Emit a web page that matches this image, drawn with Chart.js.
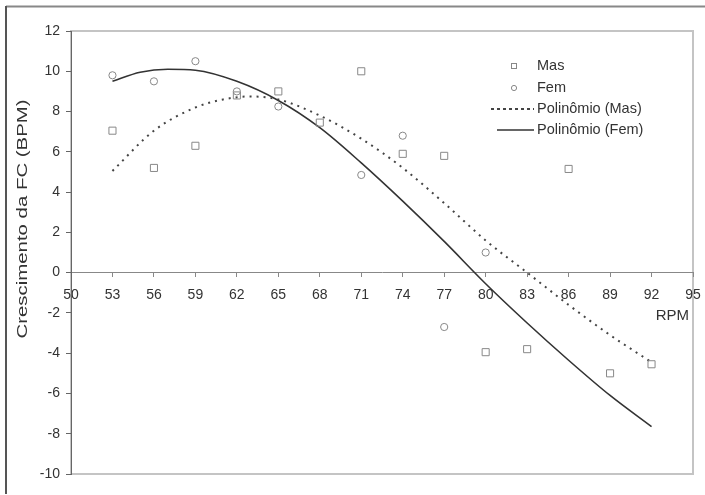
<!DOCTYPE html>
<html>
<head>
<meta charset="utf-8">
<script src="https://cdn.jsdelivr.net/npm/chart.js@4.4.0/dist/chart.umd.min.js"></script>
<style>
  html, body { margin: 0; padding: 0; background: #fff; }
  #wrap { width: 705px; height: 495px; }
</style>
</head>
<body>
<div id="wrap"><canvas id="fcChart" width="705" height="495"></canvas></div>
<script>
// RPM values of the measured points
const rpmMas = [53, 56, 59, 62, 65, 68, 71, 74, 77, 80, 83, 86, 89, 92];
const fcMas = [7.05, 5.2, 6.3, 8.8, 9.0, 7.45, 10.0, 5.9, 5.8, -3.95, -3.8, 5.15, -5.0, -4.55];

const rpmFem = [53, 56, 59, 62, 65, 71, 74, 77, 80];
const fcFem = [9.8, 9.5, 10.5, 9.0, 8.25, 4.85, 6.8, -2.7, 1.0];

// trend lines
const rpmTrendMas = [53, 56, 59, 61, 63, 65, 68, 71, 74, 77, 80, 83, 86, 89, 92];
const fcTrendMas = [5.05, 7.05, 8.2, 8.6, 8.75, 8.6, 7.8, 6.65, 5.2, 3.45, 1.6, 0.0, -1.6, -3.1, -4.45];

const rpmTrendFem = [53, 55, 57, 59, 62, 65, 68, 71, 74, 77, 80, 83, 86, 89, 92];
const fcTrendFem = [9.5, 9.95, 10.1, 10.05, 9.5, 8.55, 7.2, 5.45, 3.55, 1.55, -0.55, -2.5, -4.35, -6.1, -7.65];

const seriesNames = ['Mas', 'Fem', 'Polinômio (Mas)', 'Polinômio (Fem)'];
const yTitle = 'Crescimento da FC (BPM)';
const xTitle = 'RPM';

const toXY = (xs, ys) => xs.map((x, i) => ({ x: x, y: ys[i] }));

const FONT = "'Liberation Sans', Arial, sans-serif";

// frame, plot border, axis titles and legend
const decorations = {
  id: 'decorations',
  beforeDraw(chart) {
    const ctx = chart.ctx;
    const a = chart.chartArea;
    ctx.save();
    ctx.strokeStyle = '#888';
    ctx.lineWidth = 2;
    ctx.beginPath();
    ctx.moveTo(705, 6.5);
    ctx.lineTo(6, 6.5);
    ctx.stroke();
    ctx.strokeStyle = '#555';
    ctx.beginPath();
    ctx.moveTo(6, 6);
    ctx.lineTo(6, 494);
    ctx.stroke();
    ctx.strokeStyle = '#c4c4c4';
    ctx.lineWidth = 2;
    ctx.strokeRect(a.left, a.top, a.right - a.left, a.bottom - a.top);
    ctx.restore();
  },
  afterDraw(chart) {
    const ctx = chart.ctx;
    const ds = chart.data.datasets;
    const rows = [66, 88, 109, 130];
    ctx.save();
    ctx.font = '14.5px ' + FONT;
    ctx.fillStyle = '#333';
    ctx.textBaseline = 'middle';
    ds.forEach((d, i) => {
      const y = rows[i];
      ctx.fillText(d.label, 537, y);
      ctx.strokeStyle = d.borderColor;
      ctx.lineWidth = 1;
      if (i === 0) {
        ctx.strokeRect(511.5, y - 2.5, 5, 5);
      } else if (i === 1) {
        ctx.beginPath();
        ctx.arc(514, y, 2.6, 0, Math.PI * 2);
        ctx.stroke();
      } else {
        ctx.lineWidth = d.borderWidth;
        ctx.setLineDash(i === 2 ? [3, 3] : []);
        ctx.beginPath();
        ctx.moveTo(i === 2 ? 491 : 497, y);
        ctx.lineTo(534, y);
        ctx.stroke();
        ctx.setLineDash([]);
      }
    });

    // RPM label under the x axis, right side
    ctx.font = '15px ' + FONT;
    ctx.textAlign = 'right';
    ctx.fillText(xTitle, 689, 316);

    // y axis title (stretched along its length like the original)
    ctx.translate(23, 219);
    ctx.rotate(-Math.PI / 2);
    ctx.scale(1.36, 1);
    ctx.font = '15px ' + FONT;
    ctx.textAlign = 'center';
    ctx.fillText(yTitle, 0, 0);
    ctx.restore();
  }
};

new Chart(document.getElementById('fcChart'), {
  type: 'scatter',
  data: {
    datasets: [
      {
        label: seriesNames[0],
        data: toXY(rpmMas, fcMas),
        pointStyle: 'rect',
        pointRadius: 5,
        borderColor: '#888',
        backgroundColor: 'rgba(0,0,0,0)',
        borderWidth: 1
      },
      {
        label: seriesNames[1],
        data: toXY(rpmFem, fcFem),
        pointStyle: 'circle',
        pointRadius: 3.6,
        borderColor: '#888',
        backgroundColor: 'rgba(0,0,0,0)',
        borderWidth: 1
      },
      {
        label: seriesNames[2],
        data: toXY(rpmTrendMas, fcTrendMas),
        showLine: true,
        pointRadius: 0,
        borderColor: '#444',
        borderWidth: 2,
        borderDash: [2, 5],
        cubicInterpolationMode: 'monotone'
      },
      {
        label: seriesNames[3],
        data: toXY(rpmTrendFem, fcTrendFem),
        showLine: true,
        pointRadius: 0,
        borderColor: '#333',
        borderWidth: 1.6,
        cubicInterpolationMode: 'monotone'
      }
    ]
  },
  options: {
    responsive: false,
    animation: false,
    layout: { padding: { left: 0, top: 31, right: 12, bottom: 21 } },
    plugins: {
      legend: { display: false },
      tooltip: { enabled: false }
    },
    scales: {
      x: {
        type: 'linear',
        position: { y: 0 },
        min: 50,
        max: 95,
        afterFit(scale) {
          scale.height = 0;
          scale.paddingLeft = 0;
          scale.paddingRight = 0;
        },
        ticks: {
          stepSize: 3,
          color: '#333',
          padding: 10,
          maxRotation: 0,
          font: { family: FONT, size: 14 }
        },
        grid: { drawOnChartArea: false, tickLength: 4, color: '#888' },
        border: { color: '#888', width: 1 }
      },
      y: {
        min: -10,
        max: 12,
        afterFit(scale) {
          scale.width = 71;
          scale.paddingTop = 0;
          scale.paddingBottom = 0;
        },
        ticks: {
          stepSize: 2,
          color: '#333',
          padding: 6,
          font: { family: FONT, size: 14 }
        },
        grid: { drawOnChartArea: false, tickLength: 5, color: '#666' },
        border: { color: '#666', width: 1 }
      }
    }
  },
  plugins: [decorations]
});
</script>
</body>
</html>
